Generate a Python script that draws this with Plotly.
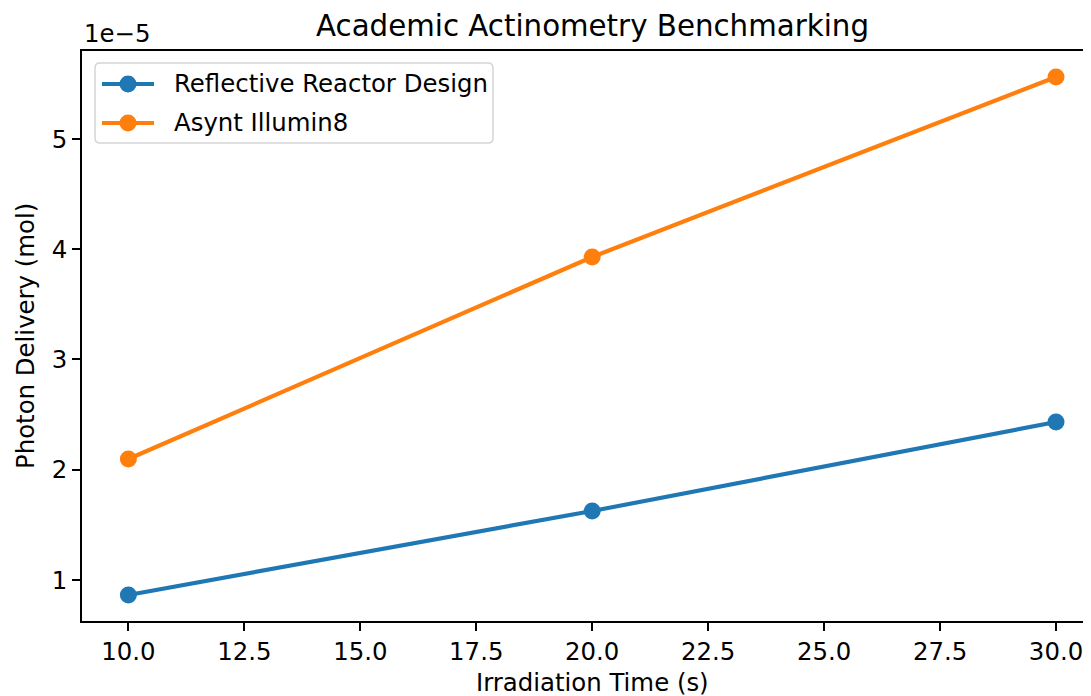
import plotly.graph_objects as go

irradiation_time_s = [10, 20, 30]
reflective_reactor_mol = [0.864e-5, 1.626e-5, 2.433e-5]
asynt_illumin8_mol = [2.097e-5, 3.93e-5, 5.562e-5]
series_names = ["Reflective Reactor Design", "Asynt Illumin8"]
series_colors = ["#1f77b4", "#ff7f0e"]
y_tick_vals = [1e-5, 2e-5, 3e-5, 4e-5, 5e-5]
y_tick_text = ["1", "2", "3", "4", "5"]
x_tick_vals = [10, 12.5, 15, 17.5, 20, 22.5, 25, 27.5, 30]
x_tick_text = ["10.0", "12.5", "15.0", "17.5", "20.0", "22.5", "25.0", "27.5", "30.0"]

FONT = "DejaVu Sans"
FS = 24.4
TFS = 29.3
# page body has an 8px margin, so the figure is drawn 8px in from the top-left
OFF = 8
W, H = 1091 - OFF, 696 - OFF
PL, PR, PT, PB = 82, 1091, 51, 621  # plot area in viewport pixels
ML, MR, MT, MB = PL - OFF, 0, PT - OFF, 696 - PB


def px(x):
    return (x - PL) / (PR - PL)


def py(y):
    return (PB - y) / (PB - PT)


fig = go.Figure()
for name, ys, col in zip(series_names, [reflective_reactor_mol, asynt_illumin8_mol], series_colors):
    fig.add_trace(go.Scatter(
        x=irradiation_time_s, y=ys, name=name, mode="lines+markers",
        line=dict(color=col, width=4.2),
        marker=dict(color=col, size=17),
        showlegend=False,
    ))

fig.update_layout(
    width=W, height=H,
    margin=dict(l=ML, r=MR, t=MT, b=MB, pad=0),
    paper_bgcolor="white", plot_bgcolor="white",
    font=dict(family=FONT, size=FS, color="black"),
    showlegend=False,
    xaxis=dict(
        range=[9, 30.754], showgrid=False, zeroline=False,
        showline=True, linecolor="black", linewidth=1.8, mirror=True,
        ticks="outside", ticklen=8, tickwidth=1.8, tickcolor="black",
        tickvals=x_tick_vals, ticktext=x_tick_text,
        tickfont=dict(family=FONT, size=FS, color="black"),
    ),
    yaxis=dict(
        range=[0.628e-5, 5.798e-5], showgrid=False, zeroline=False,
        showline=True, linecolor="black", linewidth=1.8, mirror=False,
        ticks="outside", ticklen=8, tickwidth=1.8, tickcolor="black",
        tickvals=y_tick_vals, ticktext=y_tick_text,
        tickfont=dict(family=FONT, size=FS, color="black"),
    ),
)

# custom legend box (matplotlib style, rounded corners)
bx0, bx1, by0, by1, r = 95, 493, 63, 143, 5
path = (
    f"M {px(bx0 + r)},{py(by0)} L {px(bx1 - r)},{py(by0)} "
    f"Q {px(bx1)},{py(by0)} {px(bx1)},{py(by0 + r)} L {px(bx1)},{py(by1 - r)} "
    f"Q {px(bx1)},{py(by1)} {px(bx1 - r)},{py(by1)} L {px(bx0 + r)},{py(by1)} "
    f"Q {px(bx0)},{py(by1)} {px(bx0)},{py(by1 - r)} L {px(bx0)},{py(by0 + r)} "
    f"Q {px(bx0)},{py(by0)} {px(bx0 + r)},{py(by0)} Z"
)
fig.add_shape(type="path", path=path, xref="paper", yref="paper",
              line=dict(color="#d5d5d5", width=1.5), fillcolor="rgba(255,255,255,0.8)")
for i, (name, col) in enumerate(zip(series_names, series_colors)):
    yy = 84 + i * 39
    fig.add_shape(type="line", xref="paper", yref="paper",
                  x0=px(102), x1=px(154), y0=py(yy), y1=py(yy),
                  line=dict(color=col, width=4.2))
    fig.add_shape(type="circle", xref="paper", yref="paper",
                  xsizemode="pixel", ysizemode="pixel",
                  xanchor=px(128), yanchor=py(yy),
                  x0=-8.5, x1=8.5, y0=-8.5, y1=8.5,
                  line=dict(width=0), fillcolor=col)
    fig.add_annotation(text=name, x=px(172), y=py(yy), xref="paper", yref="paper",
                       xanchor="left", yanchor="middle", showarrow=False,
                       font=dict(family=FONT, size=FS, color="black"))

fig.add_annotation(
    text="Academic Actinometry Benchmarking", x=20, xref="x", y=1, yref="paper",
    yshift=6, xanchor="center", yanchor="bottom", showarrow=False,
    font=dict(family=FONT, size=TFS, color="black"),
)
fig.add_annotation(
    text="Irradiation Time (s)", x=20, xref="x", y=0, yref="paper",
    yshift=-45, xanchor="center", yanchor="top", showarrow=False,
    font=dict(family=FONT, size=FS, color="black"),
)
fig.add_annotation(
    text="Photon Delivery (mol)", x=0, xref="paper", y=0.5, yref="paper",
    xshift=-57, xanchor="center", yanchor="middle", textangle=-90, showarrow=False,
    font=dict(family=FONT, size=FS, color="black"),
)
fig.add_annotation(
    text="1e\u22125", x=0, xref="paper", y=1, yref="paper",
    yshift=1, xanchor="left", yanchor="bottom", showarrow=False,
    font=dict(family=FONT, size=FS, color="black"),
)

fig.write_html("out.html")
